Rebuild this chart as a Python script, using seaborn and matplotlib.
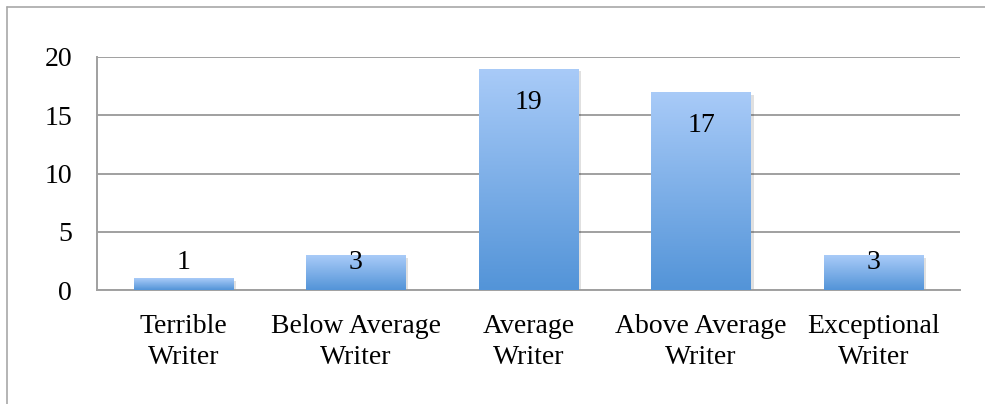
import numpy as np
import pandas as pd
import matplotlib
matplotlib.use("Agg")
import matplotlib.pyplot as plt
import matplotlib.transforms as mtransforms
from matplotlib.colors import LinearSegmentedColormap
from matplotlib.patches import Rectangle
from matplotlib.lines import Line2D
import seaborn as sns

categories = ["Terrible\nWriter", "Below Average\nWriter", "Average\nWriter",
              "Above Average\nWriter", "Exceptional\nWriter"]
counts = [1, 3, 19, 17, 3]
y_ticks = [0, 5, 10, 15, 20]

sns.set_theme(style="white")
plt.rcParams["font.family"] = ["Liberation Serif", "DejaVu Serif"]

W, H = 985, 404
FS = 20
fig = plt.figure(figsize=(W / 100, H / 100), dpi=100)
ax = fig.add_axes([97 / W, 1 - 290 / H, (960 - 97) / W, (290 - 57) / H])

df = pd.DataFrame({"category": categories, "count": counts})
sns.barplot(data=df, x="category", y="count", ax=ax, width=0.575,
            color="#7aaee8", saturation=1, edgecolor="none", zorder=3)

# vertical gradient fill (light top, darker bottom) plus a soft drop shadow
grad_cmap = LinearSegmentedColormap.from_list("bar_grad", ["#5394d8", "#a9cbf8"])
gradient = np.linspace(0, 1, 256).reshape(-1, 1)
shadow_offset = mtransforms.ScaledTranslation(2 / 72, -2 / 72, fig.dpi_scale_trans)
for p in list(ax.patches):
    x0, y0 = p.get_x(), p.get_y()
    w, h = p.get_width(), p.get_height()
    shadow = Rectangle((x0, y0), w, h, transform=ax.transData + shadow_offset,
                       facecolor="#000000", alpha=0.12, edgecolor="none", zorder=2)
    ax.add_patch(shadow)
    im = ax.imshow(gradient, cmap=grad_cmap, origin="lower", aspect="auto",
                   extent=(x0, x0 + w, y0, y0 + h), zorder=4)
    im.set_clip_path(p)

# value labels near the top of each bar
for i, v in enumerate(counts):
    ax.text(i, max(v - 2.9, 2.4), f"{v}", ha="center", va="center",
            fontsize=FS, color="black", zorder=6)

ax.set_xlim(-0.5, len(categories) - 0.5)
ax.set_ylim(0, 20)
ax.set_yticks(y_ticks)
ax.set_xlabel("")
ax.set_ylabel("")
ax.yaxis.grid(True, color="#a0a0a0", linewidth=1.4)
ax.xaxis.grid(False)
ax.set_axisbelow(True)
for side in ["top", "right"]:
    ax.spines[side].set_visible(False)
for side in ["left", "bottom"]:
    ax.spines[side].set_color("#a0a0a0")
    ax.spines[side].set_linewidth(1.4)
ax.tick_params(axis="y", length=0, pad=18, labelsize=FS, labelcolor="black")
ax.tick_params(axis="x", length=0, pad=17, labelsize=FS, labelcolor="black")
for lbl in ax.get_xticklabels():
    lbl.set_linespacing(1.35)

# outer chart frame
fx, fy = 7 / W, 1 - 7 / H
fig.add_artist(Line2D([fx, 1], [fy, fy], transform=fig.transFigure, color="#a8a8a8", lw=1.2))
fig.add_artist(Line2D([fx, fx], [0, fy], transform=fig.transFigure, color="#a8a8a8", lw=1.2))

fig.savefig("out.png", dpi=100)
